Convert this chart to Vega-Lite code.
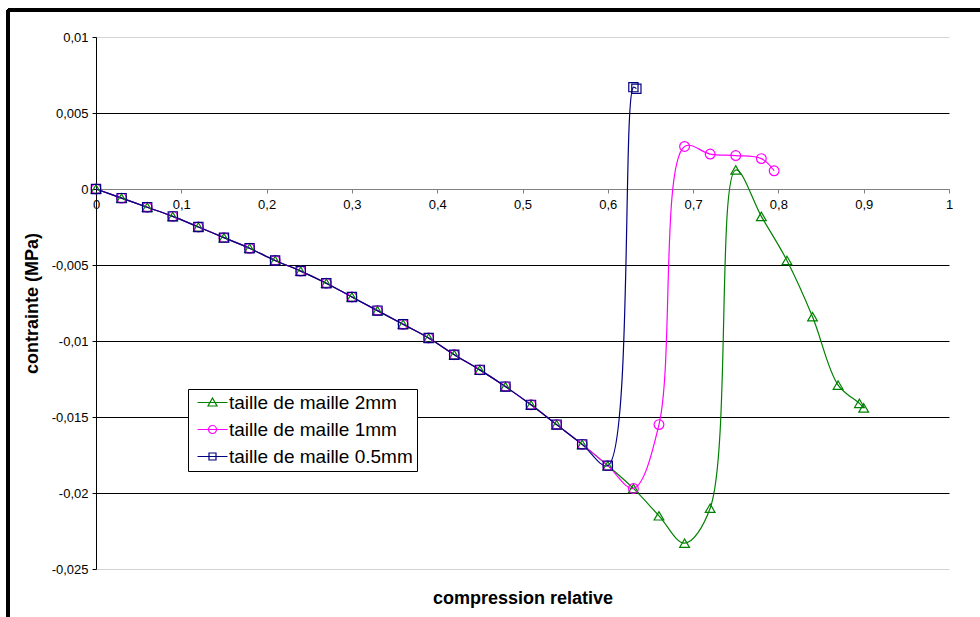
{
  "$schema": "https://vega.github.io/schema/vega-lite/v6.json",
  "width": 853,
  "height": 532,
  "autosize": {"type": "none"},
  "padding": {"left": 96, "top": 37, "right": 31, "bottom": 48},
  "background": "white",
  "config": {"font": "Liberation Sans", "view": {"stroke": null}},
  "data": {"values": [
    {"serie": "taille de maille 2mm", "x": 0, "y": 0},
    {"serie": "taille de maille 2mm", "x": 0.03, "y": -0.0006},
    {"serie": "taille de maille 2mm", "x": 0.06, "y": -0.0012},
    {"serie": "taille de maille 2mm", "x": 0.09, "y": -0.0018},
    {"serie": "taille de maille 2mm", "x": 0.12, "y": -0.0025},
    {"serie": "taille de maille 2mm", "x": 0.15, "y": -0.0032},
    {"serie": "taille de maille 2mm", "x": 0.18, "y": -0.0039},
    {"serie": "taille de maille 2mm", "x": 0.21, "y": -0.0047},
    {"serie": "taille de maille 2mm", "x": 0.24, "y": -0.0054},
    {"serie": "taille de maille 2mm", "x": 0.27, "y": -0.0062},
    {"serie": "taille de maille 2mm", "x": 0.3, "y": -0.0071},
    {"serie": "taille de maille 2mm", "x": 0.33, "y": -0.008},
    {"serie": "taille de maille 2mm", "x": 0.36, "y": -0.0089},
    {"serie": "taille de maille 2mm", "x": 0.39, "y": -0.0098},
    {"serie": "taille de maille 2mm", "x": 0.42, "y": -0.0109},
    {"serie": "taille de maille 2mm", "x": 0.45, "y": -0.0119},
    {"serie": "taille de maille 2mm", "x": 0.48, "y": -0.013},
    {"serie": "taille de maille 2mm", "x": 0.51, "y": -0.0142},
    {"serie": "taille de maille 2mm", "x": 0.54, "y": -0.0155},
    {"serie": "taille de maille 2mm", "x": 0.57, "y": -0.0168},
    {"serie": "taille de maille 2mm", "x": 0.6, "y": -0.0182},
    {"serie": "taille de maille 2mm", "x": 0.63, "y": -0.0197},
    {"serie": "taille de maille 2mm", "x": 0.66, "y": -0.0215},
    {"serie": "taille de maille 2mm", "x": 0.69, "y": -0.0233},
    {"serie": "taille de maille 2mm", "x": 0.72, "y": -0.021},
    {"serie": "taille de maille 2mm", "x": 0.75, "y": 0.00125},
    {"serie": "taille de maille 2mm", "x": 0.78, "y": -0.0018},
    {"serie": "taille de maille 2mm", "x": 0.81, "y": -0.0047},
    {"serie": "taille de maille 2mm", "x": 0.84, "y": -0.0084},
    {"serie": "taille de maille 2mm", "x": 0.87, "y": -0.0129},
    {"serie": "taille de maille 2mm", "x": 0.895, "y": -0.0141},
    {"serie": "taille de maille 2mm", "x": 0.9, "y": -0.0144},
    {"serie": "taille de maille 1mm", "x": 0, "y": 0},
    {"serie": "taille de maille 1mm", "x": 0.03, "y": -0.0006},
    {"serie": "taille de maille 1mm", "x": 0.06, "y": -0.0012},
    {"serie": "taille de maille 1mm", "x": 0.09, "y": -0.0018},
    {"serie": "taille de maille 1mm", "x": 0.12, "y": -0.0025},
    {"serie": "taille de maille 1mm", "x": 0.15, "y": -0.0032},
    {"serie": "taille de maille 1mm", "x": 0.18, "y": -0.0039},
    {"serie": "taille de maille 1mm", "x": 0.21, "y": -0.0047},
    {"serie": "taille de maille 1mm", "x": 0.24, "y": -0.0054},
    {"serie": "taille de maille 1mm", "x": 0.27, "y": -0.0062},
    {"serie": "taille de maille 1mm", "x": 0.3, "y": -0.0071},
    {"serie": "taille de maille 1mm", "x": 0.33, "y": -0.008},
    {"serie": "taille de maille 1mm", "x": 0.36, "y": -0.0089},
    {"serie": "taille de maille 1mm", "x": 0.39, "y": -0.0098},
    {"serie": "taille de maille 1mm", "x": 0.42, "y": -0.0109},
    {"serie": "taille de maille 1mm", "x": 0.45, "y": -0.0119},
    {"serie": "taille de maille 1mm", "x": 0.48, "y": -0.013},
    {"serie": "taille de maille 1mm", "x": 0.51, "y": -0.0142},
    {"serie": "taille de maille 1mm", "x": 0.54, "y": -0.0155},
    {"serie": "taille de maille 1mm", "x": 0.57, "y": -0.0168},
    {"serie": "taille de maille 1mm", "x": 0.6, "y": -0.0182},
    {"serie": "taille de maille 1mm", "x": 0.63, "y": -0.0197},
    {"serie": "taille de maille 1mm", "x": 0.66, "y": -0.0155},
    {"serie": "taille de maille 1mm", "x": 0.69, "y": 0.0028},
    {"serie": "taille de maille 1mm", "x": 0.72, "y": 0.0023},
    {"serie": "taille de maille 1mm", "x": 0.75, "y": 0.0022},
    {"serie": "taille de maille 1mm", "x": 0.78, "y": 0.002},
    {"serie": "taille de maille 1mm", "x": 0.795, "y": 0.0012},
    {"serie": "taille de maille 0.5mm", "x": 0, "y": 0},
    {"serie": "taille de maille 0.5mm", "x": 0.03, "y": -0.0006},
    {"serie": "taille de maille 0.5mm", "x": 0.06, "y": -0.0012},
    {"serie": "taille de maille 0.5mm", "x": 0.09, "y": -0.0018},
    {"serie": "taille de maille 0.5mm", "x": 0.12, "y": -0.0025},
    {"serie": "taille de maille 0.5mm", "x": 0.15, "y": -0.0032},
    {"serie": "taille de maille 0.5mm", "x": 0.18, "y": -0.0039},
    {"serie": "taille de maille 0.5mm", "x": 0.21, "y": -0.0047},
    {"serie": "taille de maille 0.5mm", "x": 0.24, "y": -0.0054},
    {"serie": "taille de maille 0.5mm", "x": 0.27, "y": -0.0062},
    {"serie": "taille de maille 0.5mm", "x": 0.3, "y": -0.0071},
    {"serie": "taille de maille 0.5mm", "x": 0.33, "y": -0.008},
    {"serie": "taille de maille 0.5mm", "x": 0.36, "y": -0.0089},
    {"serie": "taille de maille 0.5mm", "x": 0.39, "y": -0.0098},
    {"serie": "taille de maille 0.5mm", "x": 0.42, "y": -0.0109},
    {"serie": "taille de maille 0.5mm", "x": 0.45, "y": -0.0119},
    {"serie": "taille de maille 0.5mm", "x": 0.48, "y": -0.013},
    {"serie": "taille de maille 0.5mm", "x": 0.51, "y": -0.0142},
    {"serie": "taille de maille 0.5mm", "x": 0.54, "y": -0.0155},
    {"serie": "taille de maille 0.5mm", "x": 0.57, "y": -0.0168},
    {"serie": "taille de maille 0.5mm", "x": 0.6, "y": -0.0182},
    {"serie": "taille de maille 0.5mm", "x": 0.63, "y": 0.0067},
    {"serie": "taille de maille 0.5mm", "x": 0.6335, "y": 0.0066}
  ]},
  "encoding": {
    "x": {
      "field": "x", "type": "quantitative",
      "scale": {"domain": [0, 1], "nice": false, "zero": false},
      "axis": {
        "values": [0, 0.1, 0.2, 0.3, 0.4, 0.5, 0.6, 0.7, 0.8, 0.9, 1],
        "labelExpr": "replace(toString(datum.value), '.', ',')",
        "grid": false,
        "offset": -380,
        "domainColor": "#808080",
        "tickColor": "#808080",
        "tickSize": 4,
        "labelFontSize": 13,
        "labelColor": "#000",
        "labelPadding": 5,
        "labelFlush": false,
        "title": "compression relative",
        "titleFontSize": 18,
        "titleFontWeight": "bold",
        "titleColor": "#000",
        "titleX": 426.5,
        "titleY": 409,
        "titleBaseline": "middle",
        "titleAlign": "center"
      }
    },
    "y": {
      "field": "y", "type": "quantitative",
      "scale": {"domain": [-0.025, 0.01], "nice": false, "zero": false},
      "axis": {
        "values": [-0.025, -0.02, -0.015, -0.01, -0.005, 0, 0.005, 0.01],
        "labelExpr": "replace(toString(datum.value), '.', ',')",
        "grid": true,
        "gridColor": {"condition": [
          {"test": "datum.value > 0.009 || datum.value < -0.024", "value": "#d4d4d4"},
          {"test": "datum.value == 0", "value": "#808080"}
        ], "value": "#000000"},
        "gridWidth": 1,
        "domainColor": "#000",
        "tickColor": "#000",
        "tickSize": 4,
        "labelFontSize": 13,
        "labelColor": "#000",
        "labelPadding": 4,
        "labelFlush": false,
        "title": "contrainte (MPa)",
        "titleFontSize": 18,
        "titleFontWeight": "bold",
        "titleColor": "#000",
        "titleAngle": -90,
        "titleX": -64,
        "titleY": 266,
        "titleBaseline": "middle",
        "titleAlign": "center"
      }
    }
  },
  "layer": [
    {
      "mark": {"type": "rule", "stroke": "#000", "strokeWidth": 2.5, "clip": false},
      "encoding": {
        "x": {"datum": -0.1032},
        "x2": {"datum": 1.3},
        "y": {"datum": 0.011776}
      }
    },
    {
      "mark": {"type": "rule", "stroke": "#000", "strokeWidth": 2.5, "clip": false},
      "encoding": {
        "x": {"datum": -0.1032},
        "y": {"datum": 0.011776},
        "y2": {"datum": -0.04}
      }
    },
    {
      "encoding": {
        "color": {
          "field": "serie", "type": "nominal",
          "scale": {"domain": ["taille de maille 2mm", "taille de maille 1mm", "taille de maille 0.5mm"], "range": ["#008000", "#FF00FF", "#000080"]},
          "legend": {
            "title": null,
            "orient": "none",
            "legendX": 92,
            "legendY": 352,
            "fillColor": "white",
            "strokeColor": "#000",
            "padding": 4,
            "labelFontSize": 19,
            "labelLimit": 400,
            "labelColor": "#000",
            "labelOffset": 18,
            "rowPadding": 7,
            "symbolSize": 100,
            "symbolStrokeWidth": 1.2,
            "symbolFillColor": "transparent",
            "encode": {"symbols": {"update": {"shape": {"signal": "datum.value === 'taille de maille 2mm' ? 'M-0.8,0H5.2M2.2,-0.9L3.1,0.7L1.3,0.7Z' : datum.value === 'taille de maille 1mm' ? 'M-0.8,0H5.2M3,0A0.8,0.8 0 1,1 1.4,0A0.8,0.8 0 1,1 3,0' : 'M-0.8,0H5.2M1.5,-0.7H2.9V0.7H1.5Z'"}}}}
          }
        }
      },
      "layer": [
        {
          "mark": {"type": "line", "interpolate": "catmull-rom", "strokeWidth": 1.2}
        },
        {
          "transform": [{"filter": "datum.serie === 'taille de maille 2mm'"}],
          "mark": {"type": "point", "shape": "triangle-up", "filled": false, "size": 95, "strokeWidth": 1.2, "opacity": 1}
        },
        {
          "transform": [{"filter": "datum.serie === 'taille de maille 1mm'"}],
          "mark": {"type": "point", "shape": "circle", "filled": false, "size": 95, "strokeWidth": 1.2, "opacity": 1}
        },
        {
          "transform": [{"filter": "datum.serie === 'taille de maille 0.5mm'"}],
          "mark": {"type": "point", "shape": "square", "filled": false, "size": 85, "strokeWidth": 1.2, "opacity": 1}
        }
      ]
    }
  ]
}
